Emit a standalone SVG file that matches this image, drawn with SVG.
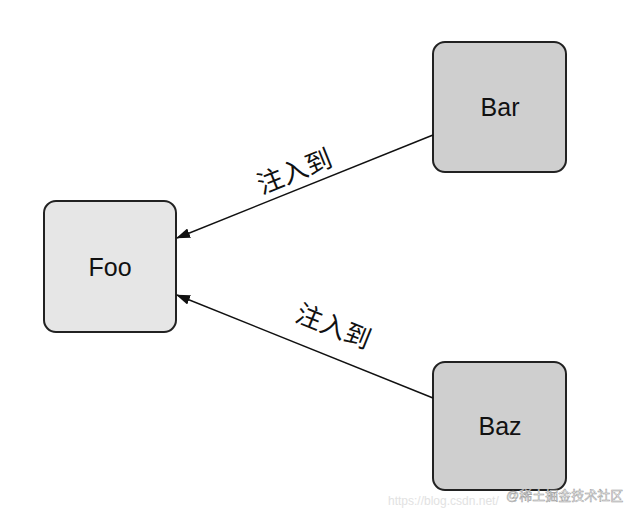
<svg xmlns="http://www.w3.org/2000/svg" width="628" height="517" viewBox="0 0 628 517">
<style>
.box{stroke:#222;stroke-width:2}
.lbl{font-family:"Liberation Sans",Arial,sans-serif;font-size:25px;fill:#111;text-anchor:middle;dominant-baseline:central}
.cn{font-family:"Liberation Serif","Noto Sans CJK SC",serif;font-size:26px;fill:#111;text-anchor:middle}
.edge{stroke:#111;stroke-width:1.5;fill:none;marker-end:url(#ah)}
</style>
<defs><marker id="ah" markerWidth="14" markerHeight="10" refX="13" refY="5" orient="auto" markerUnits="userSpaceOnUse"><path d="M0,0 L14,5 L0,10 Z" fill="#111"/></marker></defs>
<rect width="628" height="517" fill="#fff"/>
<g id="foo"><rect class="box" x="44" y="201" width="132" height="131" rx="12" fill="#e6e6e6"/><text class="lbl" x="110" y="267">Foo</text></g>
<g id="bar"><rect class="box" x="433" y="42" width="133" height="130" rx="12" fill="#cfcfcf"/><text class="lbl" x="500" y="107">Bar</text></g>
<g id="baz"><rect class="box" x="433" y="362" width="133" height="128" rx="12" fill="#cfcfcf"/><text class="lbl" x="500" y="426">Baz</text></g>
<g id="connectors">
<line class="edge" x1="433" y1="135" x2="177" y2="238"/>
<line class="edge" x1="433" y1="398" x2="177" y2="295"/>
<text class="cn" transform="translate(298,180) rotate(-22)">注入到</text>
<text class="cn" transform="translate(330,335) rotate(22)">注入到</text>
</g>
<text x="388" y="505" font-family="Liberation Sans,sans-serif" font-size="12" fill="#e2e2e2">https://blog.csdn.net/</text>
<text x="506" y="500" font-family="Liberation Sans,'Noto Sans CJK SC',sans-serif" font-size="13" fill="#fff" stroke="#999" stroke-width="0.5">@稀土掘金技术社区</text>
</svg>
